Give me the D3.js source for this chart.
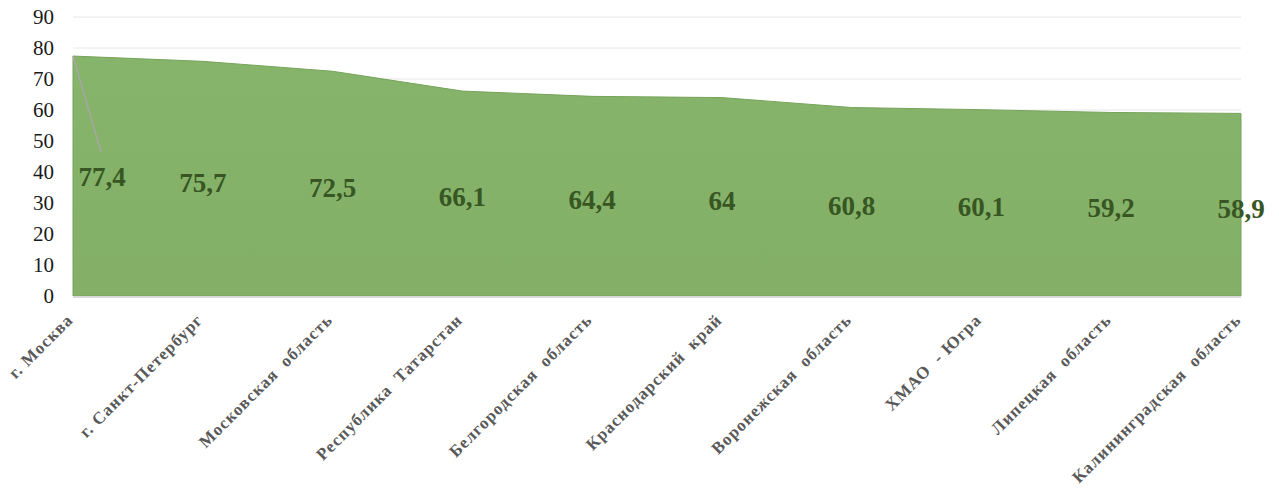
<!DOCTYPE html>
<html>
<head>
<meta charset="utf-8">
<script src="https://cdn.jsdelivr.net/npm/d3@7"></script>
<style>
  body { margin: 0; background: #fff; }
  svg text { font-family: "Liberation Serif", "DejaVu Serif", serif; }
</style>
</head>
<body>
<div id="chart"></div>
<script>
// Regions and their values
let regions = ["г. Москва", "г. Санкт-Петербург", "Московская  область", "Республика  Татарстан",
    "Белгородская  область", "Краснодарский  край", "Воронежская  область", "ХМАО  - Югра",
    "Липецкая  область", "Калининградская  область"];
let values = [77.4, 75.7, 72.5, 66.1, 64.4, 64, 60.8, 60.1, 59.2, 58.9];
let valueLabels = ["77,4", "75,7", "72,5", "66,1", "64,4", "64", "60,8", "60,1", "59,2", "58,9"];
let yTicks = [0, 10, 20, 30, 40, 50, 60, 70, 80, 90];

let width = 1279, height = 488;
let margin = {top: 17, right: 38, bottom: 192, left: 73};
let w = width - margin.left - margin.right;
let h = height - margin.top - margin.bottom;

let svg = d3.select("#chart")
    .append("svg")
    .attr("width", width)
    .attr("height", height)
    .append("g")
    .attr("transform", `translate(${margin.left}, ${margin.top})`);

let x = d3.scalePoint()
    .domain(regions)
    .range([0, w]);

let y = d3.scaleLinear()
    .domain([0, 90])
    .range([h, 0]);

let data = regions.map(function(r, i) { return {region: r, value: values[i], label: valueLabels[i]} });

// gridlines
svg.append("g")
    .selectAll("line")
    .data(yTicks)
    .enter()
    .append("line")
    .attr("x1", 0)
    .attr("x2", w)
    .attr("y1", function(d) { return y(d) })
    .attr("y2", function(d) { return y(d) })
    .attr("stroke", "#e6e6e6")
    .attr("stroke-width", 1);

// y axis labels
svg.append("g")
    .selectAll("text")
    .data(yTicks)
    .enter()
    .append("text")
    .attr("x", -19)
    .attr("y", function(d) { return y(d) })
    .attr("dy", "0.33em")
    .style("text-anchor", "end")
    .style("font-size", "21px")
    .style("fill", "#1a1a1a")
    .text(function(d) { return d });

let defs = svg.append("defs");
let grad = defs.append("linearGradient")
    .attr("id", "areaGrad")
    .attr("x1", 0).attr("x2", 0).attr("y1", 0).attr("y2", 1);
grad.append("stop").attr("offset", "0%").attr("stop-color", "#87b46b");
grad.append("stop").attr("offset", "100%").attr("stop-color", "#83b066");

let area = d3.area()
    .x(function(d) { return x(d.region) })
    .y0(y(0))
    .y1(function(d) { return y(d.value) });

svg.append("path")
    .datum(data)
    .attr("d", area)
    .attr("fill", "url(#areaGrad)")
    .attr("stroke", "#76a35a")
    .attr("stroke-width", 1);

// x axis line
svg.append("line")
    .attr("x1", 0)
    .attr("x2", w)
    .attr("y1", y(0) + 1)
    .attr("y2", y(0) + 1)
    .attr("stroke", "#d9d9d9")
    .attr("stroke-width", 2);

// leader line for first label
svg.append("line")
    .attr("x1", x(regions[0]))
    .attr("y1", y(values[0]))
    .attr("x2", x(regions[0]) + 28)
    .attr("y2", y(values[0] / 2) - 24)
    .attr("stroke", "#a6a6a6")
    .attr("stroke-width", 1.5);

// data labels
svg.append("g")
    .selectAll("text")
    .data(data)
    .enter()
    .append("text")
    .attr("x", function(d, i) { return x(d.region) + (i == 0 ? 29 : 0) })
    .attr("y", function(d, i) { return y(d.value / 2) + (i == 0 ? 1 : 4) })
    .attr("dy", "0.33em")
    .style("text-anchor", "middle")
    .style("font-weight", "bold")
    .style("font-size", "27px")
    .style("fill", "#375623")
    .text(function(d) { return d.label });

// category labels
svg.append("g")
    .selectAll("text")
    .data(regions)
    .enter()
    .append("text")
    .attr("transform", function(d) { return `translate(${x(d) + 1}, ${h + 25}) rotate(-45)` })
    .style("text-anchor", "end")
    .style("font-weight", "bold")
    .style("font-size", "17px")
    .style("letter-spacing", "1px")
    .style("fill", "#595959")
    .style("white-space", "pre")
    .text(function(d) { return d });
</script>
</body>
</html>
